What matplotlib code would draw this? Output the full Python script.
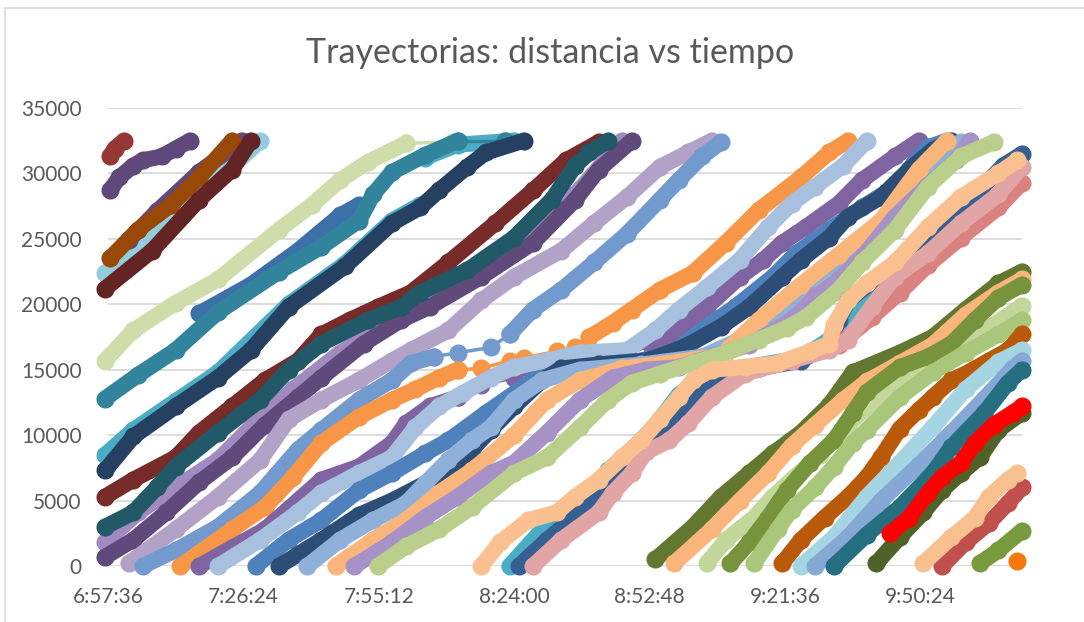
"""
Trayectorias de los vehículos: distancia recorrida frente a la hora del día
"""
import matplotlib
matplotlib.use("Agg")
import matplotlib.pyplot as plt
from matplotlib.patches import Rectangle

plt.rcParams['font.family'] = ['Lato', 'DejaVu Sans']

TITULO = "Trayectorias: distancia vs tiempo"
etiquetas_x = ["6:57:36", "7:26:24", "7:55:12", "8:24:00", "8:52:48", "9:21:36", "9:50:24"]
eje_x = ("6:57:36", "10:12:00")
valores_y = [0, 5000, 10000, 15000, 20000, 25000, 30000, 35000]

# un color por trayectoria (el orden es el de dibujo)
colores = [
    "#953735", "#5F497A", "#93CDDD", "#604A7B", "#984807", "#632523",
    "#CFDDAA", "#3D6FA8", "#4BACC6", "#31849B", "#4BACC6", "#254061",
    "#9F8BBF", "#604A7B", "#772C2A", "#215968", "#B3A2C7", "#729ACE",
    "#F79646", "#8064A2", "#A7C0DE", "#4F81BD", "#2C4D75", "#8FB0D8",
    "#FAB57A", "#A692C6", "#B9CF8B", "#4BACC6", "#366092", "#D9827F",
    "#E0A5A4", "#FAC090", "#62772F", "#FAB57A", "#C4D79B", "#77933C",
    "#A9C77A", "#B85A0A", "#A5D5E2", "#86A8D4", "#256F80", "#4F6228",
    "#FF0000", "#C0504D", "#F9C08F", "#779B3D", "#F5780F",
]

horas = [
    ["6:58", "6:59", "7:01"],
    ["6:58", "7:00", "7:03", "7:05", "7:09", "7:12", "7:15"],
    ["6:57", "7:07", "7:17", "7:24", "7:30"],
    ["7:02", "7:08", "7:17", "7:26"],
    ["6:58", "7:04", "7:11", "7:17", "7:24"],
    ["6:57", "7:07", "7:17", "7:24", "7:28"],
    ["6:57", "7:03", "7:12", "7:21", "7:34", "7:41", "7:47", "7:53", "8:01", "8:11"],
    ["7:17", "7:28", "7:38", "7:47", "7:51"],
    ["8:05", "8:12", "8:24"],
    ["6:57", "7:04", "7:12", "7:21", "7:34", "7:43", "7:51", "7:54", "7:58", "8:05", "8:12", "8:22"],
    ["6:57", "7:03", "7:12", "7:21", "7:36", "7:48", "7:58", "8:04"],
    ["6:57", "7:03", "7:12", "7:21", "7:28", "7:36", "7:48", "7:58", "8:04", "8:08", "8:14", "8:18", "8:26"],
    ["6:57", "7:04", "7:12", "7:21", "7:28", "7:37", "7:47", "8:00", "8:17", "8:28", "8:37", "8:47"],
    ["6:57", "7:03", "7:10", "7:17", "7:24", "7:31", "7:38", "7:43", "7:52", "8:00", "8:06", "8:17",
     "8:28", "8:37", "8:42", "8:49"],
    ["6:57", "7:03", "7:12", "7:17", "7:24", "7:31", "7:38", "7:43", "7:49", "7:55", "8:02", "8:10",
     "8:20", "8:28", "8:35", "8:42"],
    ["6:57", "7:03", "7:08", "7:12", "7:21", "7:30", "7:36", "7:43", "7:53", "8:00", "8:04", "8:14",
     "8:24", "8:32", "8:37", "8:40", "8:44"],
    ["7:02", "7:12", "7:21", "7:30", "7:36", "7:43", "7:51", "7:58", "8:02", "8:10", "8:17", "8:24",
     "8:34", "8:41", "8:48", "8:55", "9:01", "9:06"],
    ["7:05", "7:12", "7:21", "7:30", "7:38", "7:43", "7:51", "7:58", "8:02", "8:07", "8:12", "8:19",
     "8:23", "8:28", "8:34", "8:41", "8:48", "8:55", "8:59", "9:04", "9:08"],
    ["7:13", "7:17", "7:24", "7:31", "7:37", "7:43", "7:51", "7:58", "8:03", "8:08", "8:12", "8:17",
     "8:23", "8:26", "8:33", "8:37", "8:40", "8:45", "8:49", "8:55", "9:02", "9:09", "9:16", "9:25",
     "9:31", "9:35"],
    ["7:17", "7:24", "7:31", "7:38", "7:43", "7:51", "7:58", "8:01", "8:06", "8:12", "8:17", "8:24",
     "8:31", "8:38", "8:47", "8:53", "8:58", "9:05", "9:12", "9:17", "9:21", "9:26", "9:33", "9:38",
     "9:45", "9:50"],
    ["7:21", "7:30", "7:38", "7:43", "7:51", "7:58", "8:03", "8:08", "8:13", "8:19", "8:24", "8:31",
     "8:38", "8:48", "8:54", "8:59", "9:05", "9:12", "9:18", "9:23", "9:28", "9:34", "9:39"],
    ["7:29", "7:36", "7:43", "7:51", "7:58", "8:05", "8:10", "8:18", "8:28", "8:33", "8:42", "8:51",
     "8:58", "9:05", "9:11", "9:19", "9:24", "9:31", "9:38", "9:45", "9:49", "9:52", "9:56"],
    ["7:34", "7:43", "7:51", "7:58", "8:05", "8:10", "8:15", "8:19", "8:24", "8:30", "8:34", "8:42",
     "8:52", "8:57", "9:01", "9:08", "9:14", "9:21", "9:25", "9:31", "9:35", "9:42", "9:48", "9:53",
     "9:57"],
    ["7:40", "7:47", "7:54", "8:01", "8:05", "8:10", "8:15", "8:19", "8:24", "8:30", "8:38", "8:51",
     "9:04", "9:12", "9:21", "9:26", "9:33", "9:40", "9:46", "9:52", "9:59"],
    ["7:46", "7:54", "8:01", "8:08", "8:15", "8:24", "8:31", "8:38", "8:47", "8:59", "9:08", "9:16",
     "9:25", "9:33", "9:42", "9:50", "9:56"],
    ["7:50", "7:58", "8:05", "8:12", "8:19", "8:24", "8:31", "8:38", "8:45", "8:52", "8:59", "9:06",
     "9:14", "9:23", "9:28", "9:33", "9:38", "9:45", "9:52", "9:58", "10:01"],
    ["7:55", "8:01", "8:08", "8:15", "8:24", "8:31", "8:38", "8:44", "8:49", "8:55", "9:02", "9:09",
     "9:16", "9:22", "9:26", "9:33", "9:38", "9:45", "9:52", "9:59", "10:06"],
    ["8:23", "8:30", "8:37", "8:44", "8:51", "8:55", "8:59", "9:04", "9:12", "9:25", "9:31", "9:40",
     "9:51"],
    ["8:25", "8:31", "8:38", "8:45", "8:49", "8:52", "8:57", "8:59", "9:04", "9:08", "9:16", "9:25",
     "9:31", "9:33", "9:35", "9:42", "9:52", "10:03", "10:08", "10:12"],
    ["9:33", "9:40", "9:46", "9:52", "9:59", "10:07", "10:12"],
    ["8:28", "8:34", "8:42", "8:45", "8:49", "8:52", "8:57", "9:01", "9:06", "9:13", "9:23", "9:31",
     "9:35", "9:40", "9:45", "9:52", "9:59", "10:07", "10:12"],
    ["8:17", "8:21", "8:27", "8:33", "8:37", "8:42", "8:47", "8:51", "8:55", "8:59", "9:02", "9:06",
     "9:13", "9:20", "9:27", "9:31", "9:32", "9:35", "9:39", "9:45", "9:52", "9:59", "10:07", "10:11"],
    ["8:54", "9:02", "9:08", "9:14", "9:19", "9:25", "9:31", "9:36", "9:46", "9:53", "10:00", "10:07", "10:12"],
    ["8:58", "9:06", "9:12", "9:18", "9:23", "9:28", "9:34", "9:39", "9:46", "9:53", "10:00", "10:07", "10:12"],
    ["9:05", "9:09", "9:15", "9:19", "9:23", "9:29", "9:35", "9:42", "9:48", "9:55", "10:00", "10:05", "10:12"],
    ["9:10", "9:14", "9:18", "9:22", "9:27", "9:32", "9:36", "9:39", "9:46", "9:52", "9:57", "10:02",
     "10:07", "10:12"],
    ["9:15", "9:20", "9:23", "9:28", "9:32", "9:36", "9:39", "9:46", "9:53", "10:00", "10:07", "10:12"],
    ["9:21", "9:25", "9:30", "9:35", "9:39", "9:42", "9:46", "9:50", "9:53", "9:57", "10:00", "10:05",
     "10:09", "10:12"],
    ["9:25", "9:32", "9:39", "9:46", "9:53", "10:00", "10:07", "10:12"],
    ["9:28", "9:35", "9:42", "9:50", "9:57", "10:04", "10:10", "10:12"],
    ["9:32", "9:39", "9:46", "9:53", "9:57", "10:04", "10:09", "10:12"],
    ["9:41", "9:46", "9:51", "9:55", "9:59", "10:03", "10:07", "10:12"],
    ["9:44", "9:48", "9:52", "9:55", "9:59", "10:02", "10:06", "10:10", "10:12"],
    ["9:55", "10:00", "10:05", "10:09", "10:12"],
    ["9:51", "9:57", "10:02", "10:05", "10:09", "10:11"],
    ["10:03", "10:07", "10:12"],
    ["10:11"],
]

distancias = [
    [31300, 31900, 32500],
    [28700, 29700, 30600, 31000, 31300, 31900, 32500],
    [22400, 25100, 28400, 30500, 32500],
    [24900, 27100, 30100, 32500],
    [23500, 25700, 27600, 29700, 32500],
    [21200, 24100, 28000, 30300, 32500],
    [15700, 18000, 20100, 21900, 25700, 27600, 29500, 30900, 32300, 32400],
    [19300, 21500, 24100, 26800, 27600],
    [31200, 32200, 32500],
    [12800, 14600, 16500, 19400, 22500, 24400, 26400, 28400, 30100, 31400, 32500, 32500],
    [8500, 10400, 12600, 14800, 20000, 23100, 26400, 27600],
    [7300, 9900, 12200, 14400, 16500, 19800, 22900, 26200, 27400, 28700, 30500, 31600, 32500],
    [1800, 4100, 6000, 8100, 10600, 13500, 16300, 19100, 22500, 25100, 28400, 32500],
    [700, 2000, 4100, 6400, 8300, 10800, 12900, 14400, 17000, 18800, 19800, 22100,
     24700, 28000, 30300, 32500],
    [5300, 6600, 8300, 10200, 12200, 14200, 15700, 17700, 18800, 19800, 20900, 23200,
     26200, 28700, 31000, 32400],
    [3000, 4100, 6000, 7600, 10200, 12700, 15000, 17000, 18800, 19800, 20900, 22600,
     25100, 28000, 30600, 31600, 32500],
    [200, 2800, 5300, 8100, 11200, 12700, 14200, 15700, 16500, 18000, 20300, 22100,
     24100, 26200, 28200, 30500, 31600, 32500],
    [0, 1200, 3000, 5600, 8900, 10400, 12700, 14200, 15500, 16000, 16300, 16700,
     17700, 19600, 21100, 23200, 25400, 28000, 29500, 31300, 32400],
    [0, 1000, 2800, 4500, 6800, 9400, 11400, 12700, 13500, 14400, 15000, 15100,
     15700, 15900, 16400, 16700, 17500, 18600, 19600, 21100, 22400, 24700, 27200, 29700,
     31600, 32500],
    [0, 1400, 2800, 5000, 6600, 7600, 9400, 10900, 12200, 12900, 13800, 14400,
     15100, 15600, 16000, 16900, 17800, 19800, 22100, 23400, 24700, 25900, 27700, 29500,
     31300, 32500],
    [0, 2000, 4100, 5600, 7100, 8300, 10600, 12200, 13200, 14400, 15200, 15700,
     16300, 16500, 18000, 19600, 21300, 23400, 25900, 27700, 29000, 30600, 32500],
    [0, 2000, 3500, 5800, 7100, 8600, 9600, 11700, 14200, 14700, 15400, 15700,
     16400, 18300, 19800, 22100, 23900, 25700, 27400, 29000, 30800, 32000, 32500],
    [0, 2000, 3900, 5000, 6300, 7300, 8900, 10400, 12200, 14200, 15100, 15400,
     15700, 16300, 16900, 18300, 19800, 22100, 23400, 25100, 26700, 28200, 30300, 31800,
     32500],
    [0, 2000, 3500, 4800, 6300, 8100, 9600, 10600, 12700, 14200, 15000, 15400,
     16000, 17300, 19800, 21600, 23400, 25300, 27200, 29900, 32400],
    [0, 2000, 3500, 5600, 7300, 10000, 12700, 14200, 15100, 15600, 16100, 18800,
     21500, 23800, 26400, 30300, 32500],
    [0, 1800, 3700, 5300, 7100, 7900, 10200, 12700, 14400, 15000, 15200, 16000,
     16900, 18800, 20600, 21900, 23600, 26700, 29100, 31000, 32500],
    [0, 1500, 2800, 4500, 7100, 8300, 10600, 12700, 14000, 14700, 15500, 16300,
     17300, 18200, 19000, 21100, 23200, 25700, 29000, 31300, 32400],
    [0, 2800, 4700, 7300, 9600, 11200, 13100, 14400, 15100, 15900, 17300, 20300, 23200],
    [0, 2000, 4100, 6000, 8500, 9600, 10900, 11900, 13500, 14600, 15100, 15700,
     16900, 18800, 20300, 22200, 25500, 28700, 30600, 31500],
    [16900, 19000, 20900, 23000, 25100, 27400, 29300],
    [0, 2000, 4100, 5600, 7100, 8700, 9600, 10900, 12900, 14700, 15700, 16500,
     17300, 19800, 22100, 23900, 26200, 28400, 30500],
    [0, 1800, 3500, 4100, 5300, 6600, 8300, 9600, 11200, 12900, 14200, 15000,
     15200, 15500, 16400, 17000, 18400, 20300, 21600, 23200, 25900, 28200, 30000, 31000],
    [500, 3000, 5300, 7100, 8600, 10200, 12300, 14800, 16300, 17500, 19600, 21600, 22500],
    [200, 2800, 5000, 7100, 9200, 10800, 12700, 14100, 15500, 16900, 19200, 20900, 21900],
    [200, 2000, 3700, 5300, 6600, 8500, 10800, 13100, 14600, 16000, 17300, 18200, 19900],
    [200, 1800, 3700, 5800, 7900, 9600, 11700, 13300, 15200, 16000, 17000, 18800, 20500, 21500],
    [200, 2800, 4300, 6000, 7600, 9400, 10400, 12900, 14800, 16300, 17700, 18800],
    [200, 2000, 3700, 5300, 6800, 8300, 10500, 11900, 12900, 14200, 14700, 15700, 16500, 17700],
    [0, 2200, 5300, 7900, 10600, 13500, 15600, 16500],
    [0, 2200, 5000, 7700, 10200, 12800, 15100, 15700],
    [0, 2400, 4500, 7100, 9100, 11700, 14000, 15000],
    [200, 2200, 4100, 5800, 7100, 8300, 10400, 11700],
    [2500, 3700, 5600, 6800, 7900, 9400, 10800, 11700, 12200],
    [0, 1800, 3300, 4800, 6000],
    [200, 2200, 3700, 5300, 6600, 7100],
    [200, 1200, 2700],
    [400],
]

# tramos con registros espaciados (trayectoria -> primer y último índice)
tramo_fino = {6: (8, 9), 9: (10, 11), 17: (9, 12), 18: (10, 16), 19: (9, 15)}

GRIS = "#595959"


def a_dia(hora):
    """'H:MM' o 'H:MM:SS' -> fracción de día, como en Excel"""
    partes = [int(p) for p in hora.split(":")]
    while len(partes) < 3:
        partes.append(0)
    h, m, s = partes
    return (h + m / 60 + s / 3600) / 24


def trazo(ax, x, y, color, fino=False):
    if fino:
        ax.plot(x, y, color=color, lw=2.5, marker="o", ms=12, mec=color, clip_on=False)
    else:
        ax.plot(x, y, color=color, lw=11.5, solid_capstyle="round", solid_joinstyle="round",
                marker="o", ms=12, mec=color, clip_on=False)


fig = plt.figure(figsize=(10.84, 6.22), dpi=100)
W, H = 1084, 622
ax = fig.add_axes([108 / W, 1 - 566 / H, (1022 - 108) / W, (566 - 108) / H])

for i, (t, d) in enumerate(zip(horas, distancias)):
    x = [a_dia(h) for h in t]
    color = colores[i]
    if i in tramo_fino:
        a, b = tramo_fino[i]
        trazo(ax, x[:a + 1], d[:a + 1], color)
        trazo(ax, x[a:b + 1], d[a:b + 1], color, fino=True)
        trazo(ax, x[b:], d[b:], color)
    else:
        trazo(ax, x, d, color)

ax.set_xlim(a_dia(eje_x[0]), a_dia(eje_x[1]))
ax.set_ylim(0, 35000)
ax.set_xticks([a_dia(e) for e in etiquetas_x])
ax.set_xticklabels(etiquetas_x)
ax.set_yticks(valores_y)
ax.set_yticklabels([str(v) for v in valores_y])
ax.tick_params(axis="both", length=0, labelsize=15, colors=GRIS)
ax.tick_params(axis="y", pad=19)
ax.tick_params(axis="x", pad=15)
ax.yaxis.grid(True, color="#D9D9D9", lw=1.3)
ax.set_axisbelow(True)
for s in ax.spines.values():
    s.set_visible(False)

fig.text(550 / W, 1 - 53 / H, TITULO, ha="center", va="center", fontsize=24.5, color=GRIS)

# borde del área del gráfico
fig.add_artist(Rectangle((5 / W, -0.1), 1.2, 1 - 8 / H + 0.1, transform=fig.transFigure,
                         fill=False, edgecolor="#D9D9D9", lw=1.2))

plt.savefig("out.png", dpi=100)
